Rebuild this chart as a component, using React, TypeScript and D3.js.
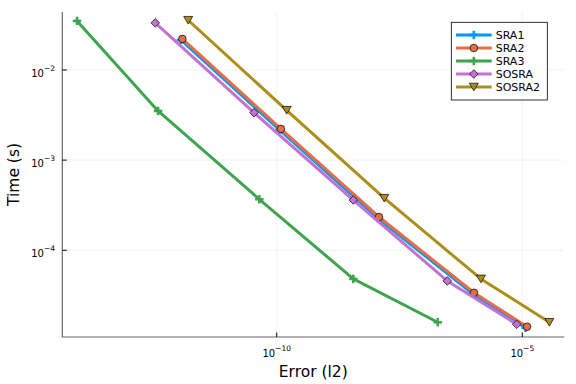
import * as d3 from "d3"

// Series names, colours and markers
const seriesNames = ["SRA1", "SRA2", "SRA3", "SOSRA", "SOSRA2"]
const seriesColors = ["#009AFA", "#E36F47", "#3EA44E", "#C371D2", "#AC8E18"]
const seriesMarkers = ["cross", "circle", "cross", "diamond", "dtriangle"]

// Error (l2) values per series
const sra1Err = [1.12e-12, 1.14e-10, 1.13e-8, 0.97e-6, 1.17e-5]
const sra2Err = [1.2e-12, 1.22e-10, 1.21e-8, 1.04e-6, 1.25e-5]
const sra3Err = [8.6e-15, 3.84e-13, 4.43e-11, 3.63e-9, 1.9e-7]
const sosraErr = [3.37e-13, 3.45e-11, 3.63e-9, 2.97e-7, 7.69e-6]
const sosra2Err = [1.58e-12, 1.6e-10, 1.55e-8, 1.44e-6, 3.55e-5]

// Time (s) values per series
const sra1Time = [0.0215, 2.16e-3, 2.28e-4, 3.3e-5, 1.38e-5]
const sra2Time = [0.0221, 2.22e-3, 2.34e-4, 3.38e-5, 1.42e-5]
const sra3Time = [0.035, 3.51e-3, 3.68e-4, 4.81e-5, 1.59e-5]
const sosraTime = [0.0333, 3.36e-3, 3.61e-4, 4.57e-5, 1.51e-5]
const sosra2Time = [0.0356, 3.57e-3, 3.78e-4, 4.81e-5, 1.59e-5]

const xTicks = [1e-10, 1e-5]
const yTicks = [1e-2, 1e-3, 1e-4]

const errs = [sra1Err, sra2Err, sra3Err, sosraErr, sosra2Err]
const times = [sra1Time, sra2Time, sra3Time, sosraTime, sosra2Time]

const W = 576
const H = 384
const plot = { left: 62.3, right: 564.3, top: 12, bottom: 337 }
const font = "'DejaVu Sans', sans-serif"

const x = d3
  .scaleLog()
  .domain([Math.pow(10, -14.365), Math.pow(10, -4.145)])
  .range([plot.left, plot.right])
const y = d3
  .scaleLog()
  .domain([Math.pow(10, -4.962), Math.pow(10, -1.357)])
  .range([plot.bottom, plot.top])

function Marker({ kind, cx, cy, color }: { kind: string; cx: number; cy: number; color: string }) {
  if (kind === "circle") {
    return <circle cx={cx} cy={cy} r={3.8} fill={color} stroke="#000" strokeWidth={0.7} />
  }
  if (kind === "diamond") {
    const s = 4.3
    return (
      <path
        d={`M${cx},${cy - s}L${cx + s},${cy}L${cx},${cy + s}L${cx - s},${cy}Z`}
        fill={color}
        stroke="#000"
        strokeWidth={0.7}
      />
    )
  }
  if (kind === "dtriangle") {
    const s = 4.5
    return (
      <path
        d={`M${cx - s},${cy - s * 0.85}L${cx + s},${cy - s * 0.85}L${cx},${cy + s * 0.85}Z`}
        fill={color}
        stroke="#000"
        strokeWidth={0.7}
      />
    )
  }
  // cross: thick plus
  const s = 4.2
  return (
    <g stroke={color} strokeWidth={2.6}>
      <line x1={cx - s} y1={cy} x2={cx + s} y2={cy} />
      <line x1={cx} y1={cy - s} x2={cx} y2={cy + s} />
    </g>
  )
}

function expOf(v: number) {
  return String(Math.round(Math.log10(v))).replace("-", "\u2212")
}

export default function App() {
  const line = d3
    .line<[number, number]>()
    .x((d) => x(d[0]))
    .y((d) => y(d[1]))

  const legendX = 451.3
  const legendY = 22.3
  const legendRow = 13

  return (
    <svg width={W} height={H} style={{ position: "absolute", left: 0, top: 0, background: "#fff" }} fontFamily={font}>
      <rect width={W} height={H} fill="#fff" />

      {/* grid */}
      {xTicks.map((t) => (
        <line key={"gx" + t} x1={x(t)} x2={x(t)} y1={plot.top} y2={plot.bottom} stroke="#000" strokeOpacity={0.1} strokeWidth={0.5} />
      ))}
      {yTicks.map((t) => (
        <line key={"gy" + t} x1={plot.left} x2={plot.right} y1={y(t)} y2={y(t)} stroke="#000" strokeOpacity={0.1} strokeWidth={0.5} />
      ))}

      {/* axes */}
      <line x1={plot.left} x2={plot.left} y1={plot.top} y2={plot.bottom} stroke="#000" strokeOpacity={0.6} strokeWidth={1.2} />
      <line x1={plot.left} x2={plot.right} y1={plot.bottom} y2={plot.bottom} stroke="#000" strokeOpacity={0.6} strokeWidth={1.2} />

      {xTicks.map((t) => (
        <g key={"tx" + t}>
          <line x1={x(t)} x2={x(t)} y1={plot.bottom} y2={plot.bottom - 4.5} stroke="#000" strokeWidth={1} />
          <text x={x(t)} y={356.7} textAnchor="middle" fontSize={10} fill="#000">
            10
            <tspan dy={-5.5} fontSize={7.5}>{expOf(t)}</tspan>
          </text>
        </g>
      ))}
      {yTicks.map((t) => (
        <g key={"ty" + t}>
          <line x1={plot.left} x2={plot.left + 4.5} y1={y(t)} y2={y(t)} stroke="#000" strokeWidth={1} />
          <text x={55} y={y(t) + 6.7} textAnchor="end" fontSize={10} fill="#000">
            10
            <tspan dy={-5.5} fontSize={7.5}>{expOf(t)}</tspan>
          </text>
        </g>
      ))}

      {/* axis labels */}
      <text x={(plot.left + plot.right) / 2} y={376.7} textAnchor="middle" fontSize={15.5} fill="#000">
        Error (l2)
      </text>
      <text
        transform={`translate(18.5,${(plot.top + plot.bottom) / 2}) rotate(-90)`}
        textAnchor="middle"
        fontSize={15.5}
        fill="#000"
      >
        Time (s)
      </text>

      {/* series */}
      {seriesNames.map((name, i) => {
        const pts = errs[i].map((e, j) => [e, times[i][j]] as [number, number])
        return (
          <g key={name}>
            <path d={line(pts) ?? ""} fill="none" stroke={seriesColors[i]} strokeWidth={3} strokeLinejoin="round" />
            {pts.map((p, j) => (
              <Marker key={j} kind={seriesMarkers[i]} cx={x(p[0])} cy={y(p[1])} color={seriesColors[i]} />
            ))}
          </g>
        )
      })}

      {/* legend */}
      <rect x={legendX} y={legendY} width={96} height={77.7} fill="#fff" stroke="#000" strokeWidth={0.8} />
      {seriesNames.map((name, i) => {
        const ly = legendY + 12.7 + i * legendRow
        return (
          <g key={"lg" + name}>
            <line x1={456} x2={491.7} y1={ly} y2={ly} stroke={seriesColors[i]} strokeWidth={3} />
            <Marker kind={seriesMarkers[i]} cx={473.8} cy={ly} color={seriesColors[i]} />
            <text x={495.7} y={ly + 4} fontSize={11} fill="#000">
              {name}
            </text>
          </g>
        )
      })}
    </svg>
  )
}
